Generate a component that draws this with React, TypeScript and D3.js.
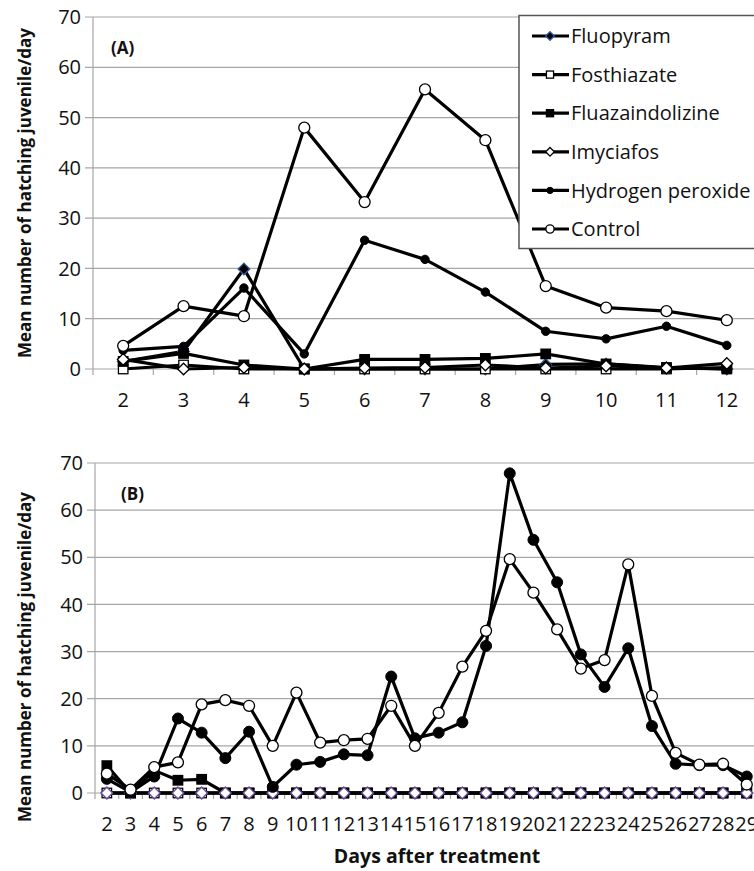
import React, { useEffect, useRef } from 'react'
import * as d3 from 'd3'

// days after treatment
const daysA = [2, 3, 4, 5, 6, 7, 8, 9, 10, 11, 12]
const daysB = d3.range(2, 30)

// panel (A)
const fluopyramA = [1.5, 3.5, 19.9, 0, 0, 0, 0, 0.9, 1.0, 0.2, 0]
const fosthiazateA = [0, 0.8, 0, 0, 0, 0, 0, 0, 0, 0, 0.3]
const fluazaindolizineA = [1.5, 3.1, 0.8, 0, 1.9, 1.9, 2.1, 3.0, 1.0, 0.3, 0]
const imyciafosA = [1.9, 0, 0.3, 0, 0.2, 0.3, 0.8, 0.2, 0.6, 0.2, 1.1]
const hydrogenA = [3.7, 4.5, 16.1, 3.0, 25.6, 21.8, 15.3, 7.5, 6.0, 8.5, 4.7]
const controlA = [4.6, 12.5, 10.5, 48.0, 33.2, 55.6, 45.5, 16.5, 12.2, 11.5, 9.7]

// panel (B)
const fluopyramB = daysB.map(() => 0)
const fosthiazateB = daysB.map(() => 0)
const fluazaindolizineB = [5.8, 0, 4.8, 2.7, 2.9, 0, 0, 0, 0, 0, 0, 0, 0, 0, 0, 0, 0, 0, 0, 0, 0, 0, 0, 0, 0, 0, 0, 0]
const imyciafosB = daysB.map(() => 0)
const hydrogenB = [3.0, 0.2, 3.5, 15.8, 12.8, 7.4, 13.0, 1.3, 6.0, 6.6, 8.2, 8.0, 24.7, 11.6, 12.8, 15.0, 31.2, 67.8, 53.7, 44.7, 29.4, 22.5, 30.7, 14.2, 6.2, 5.9, 5.9, 3.5]
const controlB = [4.1, 0.7, 5.5, 6.5, 18.8, 19.7, 18.5, 10.0, 21.3, 10.7, 11.2, 11.5, 18.5, 10.0, 17.0, 26.8, 34.4, 49.6, 42.5, 34.7, 26.4, 28.2, 48.5, 20.6, 8.5, 6.0, 6.2, 1.8]

const seriesNames = ['Fluopyram', 'Fosthiazate', 'Fluazaindolizine', 'Imyciafos', 'Hydrogen peroxide', 'Control']
const yTicks = [0, 10, 20, 30, 40, 50, 60, 70]

const FONT = '"Open Sans", "Noto Sans", sans-serif'
const GRID = '#a6a6a6'

type Marker = { shape: string, fill: string, stroke: string }
const markersA: Marker[] = [
  { shape: 'diamond', fill: '#000', stroke: '#2e5a9c' },
  { shape: 'square', fill: '#fff', stroke: '#000' },
  { shape: 'square', fill: '#000', stroke: '#000' },
  { shape: 'diamond', fill: '#fff', stroke: '#000' },
  { shape: 'dot', fill: '#000', stroke: '#000' },
  { shape: 'circle', fill: '#fff', stroke: '#000' },
]
const markersB: Marker[] = [
  { shape: 'diamond', fill: '#fff', stroke: '#6b4f9e' },
  { shape: 'square', fill: '#fff', stroke: '#000' },
  { shape: 'square', fill: '#000', stroke: '#000' },
  { shape: 'diamond', fill: '#fff', stroke: '#6b4f9e' },
  { shape: 'bigdot', fill: '#000', stroke: '#000' },
  { shape: 'circle', fill: '#fff', stroke: '#000' },
]

function drawMarker(g: any, shape: string, x: number, y: number, fill: string, stroke: string, k = 1) {
  if (shape === 'circle') {
    g.append('circle').attr('cx', x).attr('cy', y).attr('r', 5.5 * k)
      .attr('fill', fill).attr('stroke', stroke).attr('stroke-width', 1.3)
  } else if (shape === 'dot' || shape === 'bigdot') {
    g.append('circle').attr('cx', x).attr('cy', y).attr('r', (shape === 'dot' ? 4.2 : 5.5) * k)
      .attr('fill', fill).attr('stroke', stroke).attr('stroke-width', 1)
  } else if (shape === 'square') {
    const s = 9.5 * k
    g.append('rect').attr('x', x - s / 2).attr('y', y - s / 2).attr('width', s).attr('height', s)
      .attr('fill', fill).attr('stroke', stroke).attr('stroke-width', 1.3)
  } else {
    const r = 5.8 * k
    g.append('path').attr('d', `M${x},${y - r}L${x + r},${y}L${x},${y + r}L${x - r},${y}Z`)
      .attr('fill', fill).attr('stroke', stroke).attr('stroke-width', 1.3)
  }
}

function drawPanel(svg: any, opts: any) {
  const { days, series, markers, left, right, top, bottom, label, labelX, labelY } = opts
  const x = d3.scaleBand<number>().domain(days).range([left, right]).padding(0)
  const y = d3.scaleLinear().domain([0, 70]).range([bottom, top])
  const cx = (d: number) => (x(d) as number) + x.bandwidth() / 2

  const g = svg.append('g')

  // grid + y ticks
  yTicks.forEach(t => {
    g.append('line').attr('x1', left - 8).attr('x2', right).attr('y1', y(t)).attr('y2', y(t))
      .attr('stroke', GRID).attr('stroke-width', 1.2)
    g.append('text').attr('x', left - 12).attr('y', y(t)).attr('dy', '0.36em')
      .attr('text-anchor', 'end').attr('font-size', 20).attr('font-family', FONT).attr('fill', '#111')
      .text(t)
  })
  g.append('line').attr('x1', left).attr('x2', left).attr('y1', top).attr('y2', bottom + 6)
    .attr('stroke', GRID).attr('stroke-width', 1.2)
  // x ticks at band edges
  days.forEach((d: number) => {
    const xe = (x(d) as number) + x.bandwidth()
    g.append('line').attr('x1', xe).attr('x2', xe).attr('y1', bottom).attr('y2', bottom + 6)
      .attr('stroke', GRID).attr('stroke-width', 1.2)
    g.append('text').attr('x', cx(d)).attr('y', bottom + 38)
      .attr('text-anchor', 'middle').attr('font-size', 20).attr('font-family', FONT).attr('fill', '#111')
      .text(d)
  })

  g.append('text').attr('x', labelX).attr('y', labelY).attr('font-size', 17).attr('font-weight', 'bold')
    .attr('font-family', FONT).attr('fill', '#111').text(label)

  const line = d3.line<number>().x((_, i) => cx(days[i])).y(v => y(v))

  series.forEach((vals: number[], si: number) => {
    const m = markers[si]
    g.append('path').attr('d', line(vals)).attr('fill', 'none')
      .attr('stroke', '#000').attr('stroke-width', 3.2).attr('stroke-linejoin', 'round')
    const mg = g.append('g')
    vals.forEach((v, i) => drawMarker(mg, m.shape, cx(days[i]), y(v), m.fill, m.stroke))
  })
}

function App() {
  const ref = useRef<SVGSVGElement>(null)

  useEffect(() => {
    const svg = d3.select(ref.current)
    svg.selectAll('*').remove()

    svg.append('rect').attr('width', 754).attr('height', 871).attr('fill', '#fff')

    drawPanel(svg, {
      days: daysA,
      series: [fluopyramA, fosthiazateA, fluazaindolizineA, imyciafosA, hydrogenA, controlA],
      markers: markersA,
      left: 93, right: 757, top: 17, bottom: 369,
      label: '(A)', labelX: 111, labelY: 54,
    })
    drawPanel(svg, {
      days: daysB,
      series: [fluopyramB, fosthiazateB, fluazaindolizineB, imyciafosB, hydrogenB, controlB],
      markers: markersB,
      left: 95, right: 758.6, top: 463, bottom: 793,
      label: '(B)', labelX: 121, labelY: 500,
    })

    // legend
    const lg = svg.append('g')
    lg.append('rect').attr('x', 519).attr('y', 15.5).attr('width', 250).attr('height', 233)
      .attr('fill', '#fff').attr('stroke', '#555').attr('stroke-width', 1.5)
    seriesNames.forEach((name, i) => {
      const yy = 36 + i * 38.6
      lg.append('line').attr('x1', 532).attr('x2', 569).attr('y1', yy).attr('y2', yy)
        .attr('stroke', '#000').attr('stroke-width', 3.2)
      const m = markersA[i]
      drawMarker(lg, m.shape, 550, yy, m.fill, m.stroke, 0.75)
      lg.append('text').attr('x', 571).attr('y', yy).attr('dy', '0.36em')
        .attr('font-size', 20).attr('font-family', FONT).attr('fill', '#111')
        .text(name)
    })

    // axis titles
    ;[193, 657].forEach(cy => {
      svg.append('text').attr('transform', `translate(25,${cy}) rotate(-90)`)
        .attr('text-anchor', 'middle').attr('dy', '0.35em')
        .attr('font-size', 17).attr('font-weight', 'bold').attr('font-family', FONT).attr('fill', '#111')
        .text('Mean number of hatching juvenile/day')
    })
    svg.append('text').attr('x', 437).attr('y', 863).attr('text-anchor', 'middle')
      .attr('font-size', 19.5).attr('font-weight', 'bold').attr('font-family', FONT).attr('fill', '#111')
      .text('Days after treatment')
  }, [])

  return (
    <svg ref={ref} width={754} height={871}
      style={{ position: 'absolute', left: 0, top: 0, display: 'block' }} />
  )
}

export default App
